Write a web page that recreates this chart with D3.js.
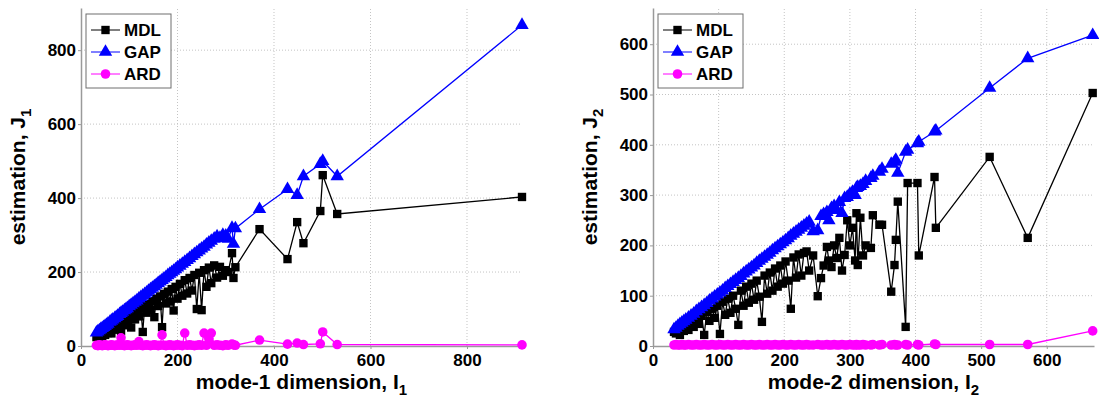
<!DOCTYPE html>
<html>
<head>
<meta charset="utf-8">
<script src="https://cdn.jsdelivr.net/npm/d3@7"></script>
<style>
    body { margin: 0; background: #fff; }
    text { font-family: Arial, "Liberation Sans", sans-serif; font-weight: bold; fill: #000; }
</style>
</head>
<body>
<div id="chart"></div>
<script>
// mode-1 panel
const dim1 = [32, 35, 38, 41, 44, 47, 50, 53, 56, 60,
    63, 66, 70, 73, 76, 80, 83, 86, 90, 93,
    96, 100, 104, 108, 112, 116, 120, 124, 128, 132,
    136, 140, 144, 148, 152, 156, 160, 164, 168, 172,
    176, 180, 184, 188, 192, 196, 200, 205, 210, 215,
    220, 225, 230, 235, 240, 245, 250, 255, 260, 265,
    270, 276, 282, 288, 294, 300, 305, 313, 316, 320,
    370, 428, 448, 461, 496, 501, 531, 914];
const mdl1 = [24, 28, 22, 33, 27, 37, 30, 42, 35, 48,
    34, 54, 44, 59, 50, 65, 40, 70, 56, 76,
    62, 82, 50, 88, 72, 95, 80, 101, 38, 108,
    90, 114, 98, 121, 78, 128, 108, 134, 51, 141,
    115, 147, 120, 154, 96, 160, 128, 168, 136, 178,
    142, 184, 150, 192, 100, 198, 97, 205, 160, 212,
    170, 218, 185, 214, 190, 205, 200, 251, 184, 213,
    316, 235, 335, 278, 365, 462, 357, 403];
const gap1 = [36, 39, 42, 45, 48, 51, 54, 57, 60, 65,
    68, 71, 75, 78, 81, 86, 89, 92, 96, 99,
    102, 107, 111, 115, 119, 123, 128, 132, 136, 140,
    144, 149, 153, 157, 161, 165, 170, 174, 178, 182,
    186, 191, 195, 199, 203, 207, 212, 217, 222, 227,
    232, 237, 243, 248, 253, 258, 263, 268, 274, 279,
    284, 290, 296, 292, 300, 298, 290, 319, 276, 318,
    370, 424, 408, 459, 492, 500, 459, 868];
const ard1 = [2, 1, 3, 2, 1, 2, 3, 2, 1, 2,
    3, 2, 1, 2, 3, 2, 22, 2, 1, 2,
    3, 2, 1, 2, 3, 2, 12, 2, 1, 2,
    3, 2, 1, 2, 3, 2, 1, 2, 30, 2,
    1, 2, 3, 2, 1, 2, 3, 2, 1, 35,
    2, 3, 2, 1, 2, 3, 2, 35, 2, 20,
    35, 2, 3, 2, 1, 3, 2, 5, 3, 2,
    16, 5, 8, 4, 6, 38, 4, 3];
const ticks1 = [0, 200, 400, 600, 800];

// mode-2 panel
const dim2 = [32, 35, 38, 41, 44, 47, 50, 54, 58, 62,
    66, 70, 74, 78, 82, 86, 90, 94, 98, 102,
    106, 110, 114, 118, 122, 126, 130, 134, 138, 142,
    146, 150, 154, 158, 162, 166, 170, 174, 178, 182,
    186, 190, 194, 198, 202, 206, 210, 214, 218, 222,
    226, 230, 234, 238, 244, 251, 256, 260, 265, 268,
    272, 276, 280, 284, 288, 292, 296, 300, 304, 308,
    310, 312, 316, 320, 324, 332, 335, 345, 349, 363,
    368, 370, 373, 385, 388, 403, 405, 429, 431, 513,
    571, 670];
const mdl2 = [28, 25, 32, 22, 38, 30, 42, 32, 48, 38,
    55, 44, 60, 22, 68, 50, 74, 56, 80, 24,
    88, 62, 94, 66, 100, 74, 42, 110, 80, 118,
    86, 124, 92, 130, 98, 48, 140, 104, 146, 110,
    154, 118, 160, 124, 168, 130, 74, 176, 136, 182,
    140, 185, 188, 150, 180, 99, 135, 160, 197, 170,
    157, 200, 175, 215, 150, 181, 250, 200, 235, 170,
    264, 161, 255, 180, 200, 195, 260, 241, 241, 108,
    161, 211, 287, 38, 324, 324, 180, 336, 235, 376,
    215, 503];
const gap2 = [33, 36, 40, 43, 46, 49, 52, 56, 60, 64,
    69, 73, 77, 81, 85, 90, 94, 98, 102, 106,
    110, 115, 119, 123, 127, 131, 135, 139, 144, 148,
    152, 156, 160, 165, 169, 173, 177, 181, 185, 190,
    194, 198, 202, 206, 210, 214, 219, 223, 227, 231,
    235, 239, 243, 247, 228, 230, 258, 262, 266, 250,
    274, 278, 270, 286, 264, 294, 296, 302, 306, 300,
    314, 316, 318, 322, 328, 334, 338, 346, 352, 362,
    366, 370, 344, 386, 390, 403, 406, 426, 428, 513,
    572, 618];
const ard2 = [2, 3, 2, 2, 3, 2, 2, 3, 2, 2,
    3, 2, 2, 3, 2, 2, 3, 2, 2, 3,
    2, 2, 3, 2, 2, 3, 2, 2, 3, 2,
    2, 3, 2, 2, 3, 2, 2, 3, 2, 2,
    3, 2, 2, 3, 2, 2, 3, 2, 2, 3,
    2, 2, 3, 2, 2, 3, 2, 2, 3, 2,
    2, 3, 2, 2, 3, 2, 2, 3, 2, 2,
    3, 2, 2, 3, 2, 2, 3, 2, 3, 2,
    3, 2, 2, 3, 2, 3, 2, 4, 3, 3,
    3, 30];
const ticks2 = [0, 100, 200, 300, 400, 500, 600];

const seriesNames = ['MDL', 'GAP', 'ARD'];
const seriesColors = ['#000000', '#0000ff', '#ff00ff'];
const seriesSymbols = [d3.symbolSquare, d3.symbolTriangle, d3.symbolCircle];
const symbolSizes = [70, 78, 72];

const width = 1099, height = 401;
const plotTop = 8, plotBottom = 346;

const svg = d3.select('#chart')
    .append('svg')
    .attr('width', width)
    .attr('height', height);

function drawPanel(p) {
    const x = d3.scaleLinear().domain([0, p.max]).range([p.left, p.right]);
    const y = d3.scaleLinear().domain([0, p.max]).range([plotBottom, plotTop]);
    const g = svg.append('g');

    // dotted grid
    g.append('g').selectAll('line')
        .data(p.ticks.filter(t => t > 0))
        .enter().append('line')
        .attr('x1', d => x(d)).attr('x2', d => x(d))
        .attr('y1', plotBottom).attr('y2', plotTop)
        .attr('stroke', '#c4c4c4').attr('stroke-dasharray', '1,2');
    g.append('g').selectAll('line')
        .data(p.ticks.filter(t => t > 0))
        .enter().append('line')
        .attr('x1', p.left).attr('x2', p.right)
        .attr('y1', d => y(d)).attr('y2', d => y(d))
        .attr('stroke', '#c4c4c4').attr('stroke-dasharray', '1,2');

    // axes
    const xAxis = g.append('g')
        .attr('transform', `translate(0,${plotBottom})`)
        .call(d3.axisBottom(x).tickValues(p.ticks).tickSize(3).tickSizeOuter(0).tickPadding(5));
    const yAxis = g.append('g')
        .attr('transform', `translate(${p.left},0)`)
        .call(d3.axisLeft(y).tickValues(p.ticks).tickSize(3).tickSizeOuter(0).tickPadding(2));
    [xAxis, yAxis].forEach(a => {
        a.select('.domain').attr('stroke', '#9a9a9a').attr('stroke-width', 1.5);
        a.selectAll('.tick line').attr('stroke', '#9a9a9a');
        a.selectAll('.tick text')
            .style('font-size', '17px')
            .style('font-family', 'Arial, "Liberation Sans", sans-serif')
            .style('font-weight', 'bold')
            .attr('fill', '#000');
    });

    // series: MDL, GAP, ARD in legend order
    p.series.forEach((vals, i) => {
        const pts = p.dims.map((d, k) => [d, vals[k]]);
        g.append('path')
            .attr('d', d3.line().x(d => x(d[0])).y(d => y(d[1]))(pts))
            .attr('fill', 'none')
            .attr('stroke', seriesColors[i])
            .attr('stroke-width', 1.3);
        g.append('g').selectAll('path')
            .data(pts)
            .enter().append('path')
            .attr('transform', d => `translate(${x(d[0])},${y(d[1])})`)
            .attr('d', d3.symbol().type(seriesSymbols[i]).size(symbolSizes[i]))
            .attr('fill', seriesColors[i]);
    });

    // axis labels
    g.append('text')
        .attr('x', (p.left + p.right) / 2)
        .attr('y', 389)
        .attr('text-anchor', 'middle')
        .style('font-size', '21px')
        .text(p.xLabel)
        .append('tspan')
        .attr('dy', 6)
        .style('font-size', '15px')
        .text(p.sub);

    const yl = g.append('text')
        .attr('transform', `translate(${p.left - 56},${(plotTop + plotBottom) / 2}) rotate(-90)`)
        .attr('text-anchor', 'middle')
        .style('font-size', '21px')
        .text('estimation, J');
    yl.append('tspan')
        .attr('dy', 6)
        .style('font-size', '15px')
        .text(p.sub);

    // legend
    const lg = g.append('g').attr('transform', `translate(${p.left + 5},14)`);
    lg.append('rect')
        .attr('width', 85).attr('height', 74)
        .attr('fill', '#fff')
        .attr('stroke', '#6e6e6e');
    seriesNames.forEach((name, i) => {
        const cy = 16 + i * 22;
        lg.append('line')
            .attr('x1', 5).attr('x2', 34)
            .attr('y1', cy).attr('y2', cy)
            .attr('stroke', seriesColors[i]);
        lg.append('path')
            .attr('transform', `translate(19.5,${cy})`)
            .attr('d', d3.symbol().type(seriesSymbols[i]).size(symbolSizes[i]))
            .attr('fill', seriesColors[i]);
        lg.append('text')
            .attr('x', 38)
            .attr('y', cy + 6)
            .style('font-size', '17px')
            .text(name);
    });
}

drawPanel({
    left: 81, right: 522, max: 914, ticks: ticks1,
    dims: dim1, series: [mdl1, gap1, ard1],
    xLabel: 'mode-1 dimension, I', sub: '1'
});
drawPanel({
    left: 653, right: 1094, max: 672, ticks: ticks2,
    dims: dim2, series: [mdl2, gap2, ard2],
    xLabel: 'mode-2 dimension, I', sub: '2'
});
</script>
</body>
</html>
